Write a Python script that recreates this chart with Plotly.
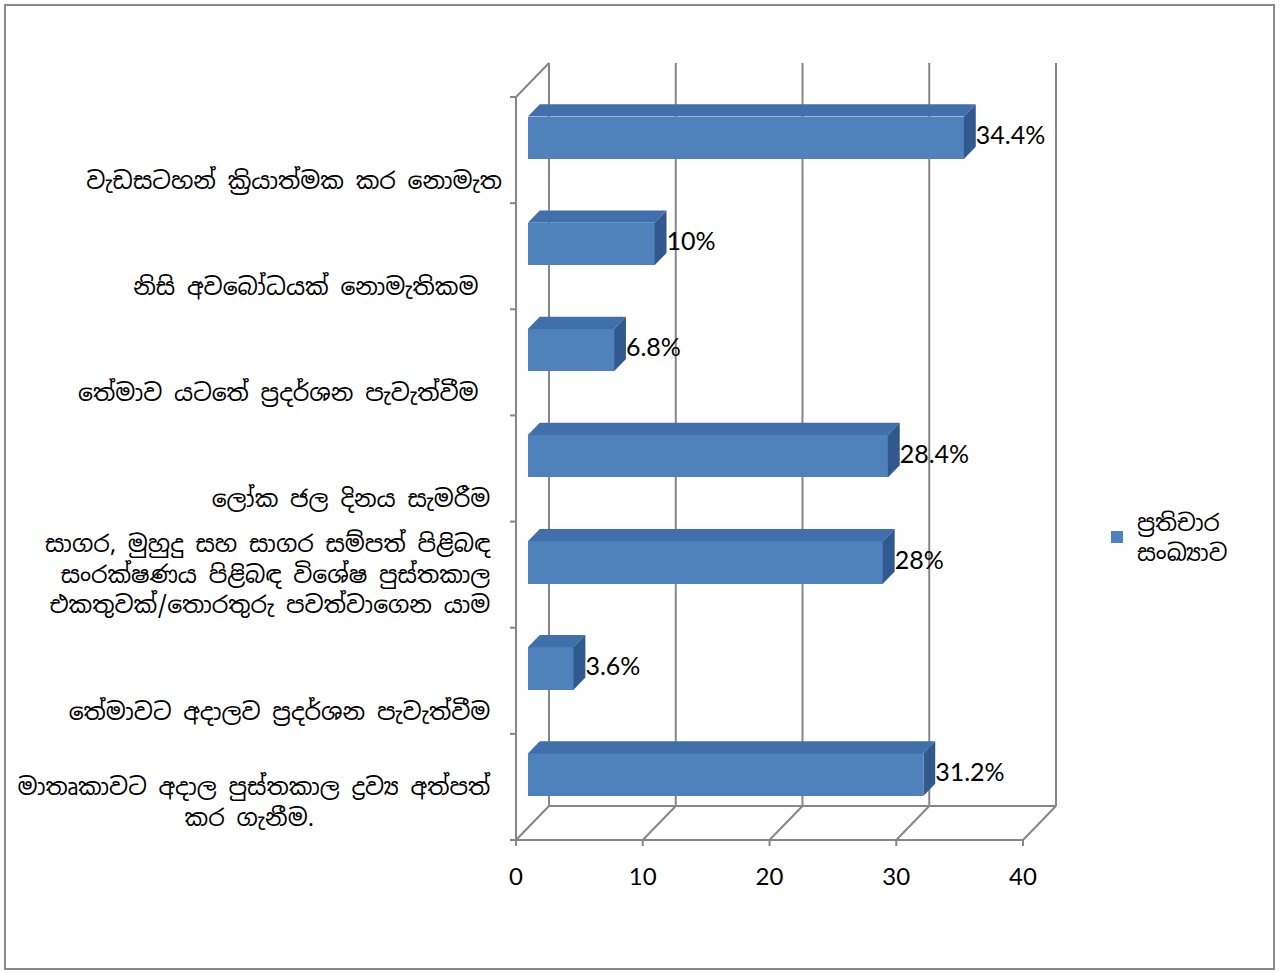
import plotly.graph_objects as go

# ---------------- data ----------------
ZWJ = "\u200d"
categories = [
    [f"වැඩසටහන් ක්{ZWJ}රියාත්මක කර නොමැත"],
    ["නිසි අවබෝධයක් නොමැතිකම"],
    [f"තේමාව යටතේ ප්{ZWJ}රදර්ශන පැවැත්වීම"],
    ["ලෝක ජල දිනය සැමරීම"],
    ["සාගර, මුහුදු සහ සාගර සම්පත් පිළිබඳ",
     "සංරක්ෂණය පිළිබඳ විශේෂ පුස්තකාල",
     "එකතුවක්/තොරතුරු පවත්වාගෙන යාම"],
    [f"තේමාවට අදාලව ප්{ZWJ}රදර්ශන පැවැත්වීම"],
    [f"මාතෘකාවට අදාල පුස්තකාල ද්{ZWJ}රව්{ZWJ}ය අත්පත්", "කර ගැනීම."],
]
values = [34.4, 10, 6.8, 28.4, 28, 3.6, 31.2]
series_name = f"ප්{ZWJ}රතිචාර<br>සංඛ්{ZWJ}යාව"
x_ticks = [0, 10, 20, 30, 40]

# label placement tweaks: leading blank lines (vertical) and trailing spaces per line (horizontal)
label_lead = [2, 2, 2, 2, 0, 2, 1]
label_pad = [[0], [2], [2], [1], [1, 1, 1], [1], [1, 16]]

def make_ticktext(lines, lead, pads):
    body = "<br>".join(l + "&nbsp;" * p for l, p in zip(lines, pads))
    return "<br>" * lead + body

# ---------------- geometry (pixels -> axes) ----------------
W, H = 1281, 973
FX0, FX40 = 516, 1023          # front plane x=0 / x=40 pixel
KX = (FX40 - FX0) / 40.0
FY_BOT, FY_TOP = 840, 97       # front plane bottom/top pixel
n = len(categories)
KY = (FY_BOT - FY_TOP) / n
PL, PR, PT, PB = 503, 1068, 50, 851
xr = [(PL - FX0) / KX, (PR - FX0) / KX]
yr = [-0.5 - (PB - FY_BOT) / KY, n - 0.5 + (FY_TOP - PT) / KY]
DX = 33 / KX
DY = 34 / KY
F1, F2 = 0.36, 0.72            # depth of bar front / back faces
BH = 0.40                      # bar thickness

ypos = [n - 1 - i for i in range(n)]

FRONT = "#4F81BD"
TOP = "#416FAB"
SIDE = "#32598E"
GRID = "#868686"

fig = go.Figure()

# front faces
fig.add_trace(go.Bar(
    y=[y + DY * F1 for y in ypos], x=values, base=DX * F1, orientation="h",
    width=BH, marker=dict(color=FRONT, line=dict(width=0)),
    name=series_name, showlegend=True, hoverinfo="skip",
))

# top and side faces
for y, v in zip(ypos, values):
    yt, yb = y + BH / 2, y - BH / 2
    xs_top = [DX * F1, DX * F2, v + DX * F2, v + DX * F1, DX * F1]
    ys_top = [yt + DY * F1, yt + DY * F2, yt + DY * F2, yt + DY * F1, yt + DY * F1]
    fig.add_trace(go.Scatter(x=xs_top, y=ys_top, fill="toself", fillcolor=TOP,
                             mode="lines", line=dict(width=0, color=TOP),
                             showlegend=False, hoverinfo="skip"))
    xs_s = [v + DX * F1, v + DX * F2, v + DX * F2, v + DX * F1, v + DX * F1]
    ys_s = [yb + DY * F1, yb + DY * F2, yt + DY * F2, yt + DY * F1, yb + DY * F1]
    fig.add_trace(go.Scatter(x=xs_s, y=ys_s, fill="toself", fillcolor=SIDE,
                             mode="lines", line=dict(width=0, color=SIDE),
                             showlegend=False, hoverinfo="skip"))

# value labels
fig.add_trace(go.Scatter(
    x=[v + DX * F2 for v in values], y=[y + DY * F1 for y in ypos],
    mode="text", text=[f"{v:g}%" for v in values], textposition="middle right",
    textfont=dict(family="Lato, Carlito, sans-serif", size=25, color="black"),
    showlegend=False, hoverinfo="skip", cliponaxis=False,
))

# ---------------- 3D frame lines (below traces) ----------------
shapes = []
def ln(x0, y0, x1, y1, w=2):
    shapes.append(dict(type="line", xref="x", yref="y", x0=x0, y0=y0, x1=x1, y1=y1,
                       line=dict(color=GRID, width=w), layer="below"))

ybot, ytop = -0.5, n - 0.5
for t in x_ticks:
    ln(t + DX, ybot + DY, t + DX, ytop + DY)          # back wall gridlines
    ln(t, ybot, t + DX, ybot + DY)                    # floor diagonals
    ln(t, ybot, t, ybot - 6 / KY)                     # front ticks
ln(DX, ybot + DY, x_ticks[-1] + DX, ybot + DY)        # floor back edge
ln(0, ybot, x_ticks[-1], ybot)                        # floor front edge
ln(0, ybot, 0, ytop)                                  # left front edge
ln(0, ytop, DX, ytop + DY)                            # top-left diagonal
for k in range(n + 1):
    ln(0, ybot + k, -6 / KX, ybot + k)                # category ticks

# outer border
pw, ph = PR - PL, PB - PT
def px(xp): return (xp - PL) / pw
def py(yp): return (PB - yp) / ph
shapes.append(dict(type="rect", xref="paper", yref="paper",
                   x0=px(5), x1=px(1274), y0=py(969), y1=py(5),
                   line=dict(color="#898989", width=2), layer="below"))

SIN_FONT = "Noto Sans Sinhala, Iskoola Pota, Noto Sans, sans-serif"

fig.update_layout(
    width=W, height=H, autosize=False,
    margin=dict(l=PL, r=W - PR, t=PT, b=H - PB, pad=0),
    paper_bgcolor="white", plot_bgcolor="white",
    shapes=shapes,
    bargap=0,
    xaxis=dict(range=xr, tickvals=x_ticks, ticktext=[str(t) for t in x_ticks],
               showgrid=False, zeroline=False, showline=False,
               ticks="outside", ticklen=4, tickcolor="rgba(0,0,0,0)",
               tickfont=dict(family="Lato, Carlito, sans-serif", size=24, color="black")),
    yaxis=dict(range=yr, tickvals=ypos,
               ticktext=[make_ticktext(c, l, p) for c, l, p in zip(categories, label_lead, label_pad)],
               showgrid=False, zeroline=False, showline=False,
               ticks="", tickcolor="rgba(0,0,0,0)",
               tickfont=dict(family=SIN_FONT, size=23.5, color="black")),
    legend=dict(x=px(1097), y=py(537), xanchor="left", yanchor="middle",
                font=dict(family=SIN_FONT, size=23, color="black"),
                bgcolor="rgba(0,0,0,0)", itemwidth=30),
    showlegend=True,
)

fig.write_html("out.html", config={"displayModeBar": False},
               post_script="document.body.style.margin='0';document.body.style.overflow='hidden';")
